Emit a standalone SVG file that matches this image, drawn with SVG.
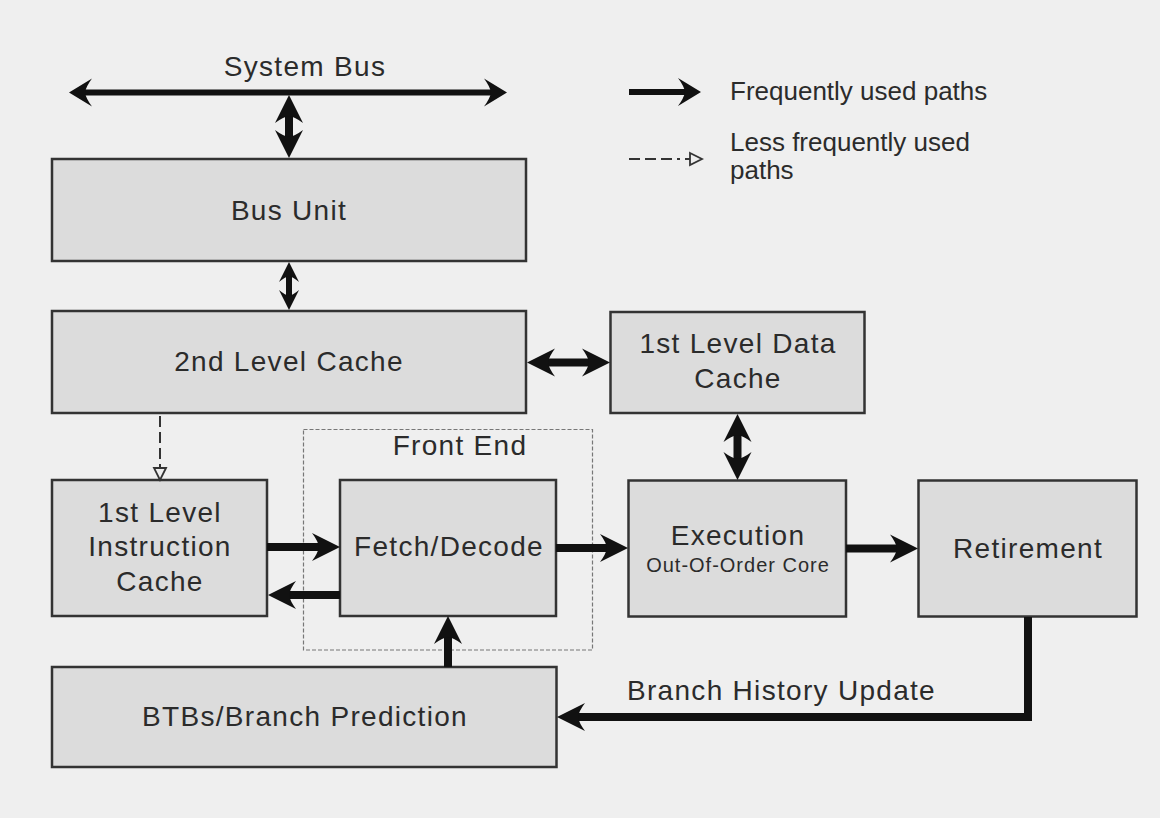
<svg xmlns="http://www.w3.org/2000/svg" width="1160" height="818" viewBox="0 0 1160 818">
  <style>
    .box { fill: #dcdcdc; stroke: #333333; stroke-width: 2.5; }
    .t { font-family: "Liberation Sans", Arial, Helvetica, sans-serif; font-size: 28px; letter-spacing: 1.3px; fill: #2b2b2b; text-anchor: middle; }
    .small { font-size: 20px; letter-spacing: 1px; }
    .leg { font-family: "Liberation Sans", Arial, Helvetica, sans-serif; font-size: 26px; fill: #2b2b2b; }
    .thick { stroke: #111111; stroke-width: 8; fill: none; }
    .mid { stroke: #111111; stroke-width: 6; fill: none; }
    .dash { stroke: #333333; stroke-width: 2; fill: none; stroke-dasharray: 11 5; }
    .fe { fill: none; stroke: #777777; stroke-width: 1.2; stroke-dasharray: 4 2; }
  </style>
  <defs>
    <marker id="ah" viewBox="-10 -16 32 32" markerWidth="32" markerHeight="32" refX="0" refY="0" markerUnits="userSpaceOnUse" orient="auto-start-reverse">
      <path d="M20,0 L-8,-14 Q-2,-6 -1,0 Q-2,6 -8,14 Z" fill="#111111"/>
    </marker>
    <marker id="ahb" viewBox="-10 -16 30 32" markerWidth="30" markerHeight="32" refX="0" refY="0" markerUnits="userSpaceOnUse" orient="auto-start-reverse">
      <path d="M16,0 L-7,-14 Q-1,-6 0,0 Q-1,6 -7,14 Z" fill="#111111"/>
    </marker>
    <marker id="ahs" viewBox="-8 -12 24 24" markerWidth="24" markerHeight="24" refX="0" refY="0" markerUnits="userSpaceOnUse" orient="auto-start-reverse">
      <path d="M14,0 L-6,-10 Q-1,-4 0,0 Q-1,4 -6,10 Z" fill="#111111"/>
    </marker>
    <marker id="open" viewBox="-2 -8 16 16" markerWidth="16" markerHeight="16" refX="0" refY="0" markerUnits="userSpaceOnUse" orient="auto">
      <path d="M0,-6 L12,0 L0,6 Z" fill="#eeeeee" stroke="#333333" stroke-width="1.8"/>
    </marker>
  </defs>

  <rect x="0" y="0" width="1160" height="818" fill="#efefef"/>

  <!-- Front End dashed region -->
  <g id="front-end">
    <rect class="fe" x="303.5" y="429.5" width="289" height="220.5"/>
    <text class="t" x="460" y="455">Front End</text>
  </g>

  <g id="bus-unit">
    <rect class="box" x="52" y="159" width="474" height="102"/>
    <text class="t" x="289" y="220">Bus Unit</text>
  </g>

  <g id="l2-cache">
    <rect class="box" x="52" y="311" width="474" height="102"/>
    <text class="t" x="289" y="371">2nd Level Cache</text>
  </g>

  <g id="l1-data-cache">
    <rect class="box" x="610.5" y="312" width="254" height="101"/>
    <text class="t" x="738" y="353">1st Level Data</text>
    <text class="t" x="738" y="388">Cache</text>
  </g>

  <g id="l1-instr-cache">
    <rect class="box" x="52" y="480" width="215" height="136"/>
    <text class="t" x="160" y="522">1st Level</text>
    <text class="t" x="160" y="556">Instruction</text>
    <text class="t" x="160" y="591">Cache</text>
  </g>

  <g id="fetch-decode">
    <rect class="box" x="340" y="480" width="216" height="136"/>
    <text class="t" x="449" y="556">Fetch/Decode</text>
  </g>

  <g id="execution">
    <rect class="box" x="628.5" y="480.5" width="217.5" height="136"/>
    <text class="t" x="738" y="545">Execution</text>
    <text class="t small" x="738" y="572">Out-Of-Order Core</text>
  </g>

  <g id="retirement">
    <rect class="box" x="918.5" y="480.5" width="218" height="136"/>
    <text class="t" x="1028" y="558">Retirement</text>
  </g>

  <g id="btb">
    <rect class="box" x="52" y="667" width="504.5" height="100"/>
    <text class="t" x="305" y="726">BTBs/Branch Prediction</text>
  </g>

  <g id="system-bus">
    <text class="t" x="305" y="76">System Bus</text>
  </g>

  <g id="connectors">
    <line class="mid" x1="85" y1="92.5" x2="491" y2="92.5" marker-start="url(#ahb)" marker-end="url(#ahb)"/>
    <line class="thick" x1="289" y1="115" x2="289" y2="138" marker-start="url(#ah)" marker-end="url(#ah)"/>
    <line class="mid" x1="289" y1="276" x2="289" y2="296" marker-start="url(#ahs)" marker-end="url(#ahs)"/>
    <line class="thick" x1="547" y1="362.5" x2="590" y2="362.5" marker-start="url(#ah)" marker-end="url(#ah)"/>
    <line class="thick" x1="737.5" y1="434" x2="737.5" y2="460" marker-start="url(#ah)" marker-end="url(#ah)"/>
    <line class="dash" x1="160" y1="416" x2="160" y2="468" marker-end="url(#open)"/>
    <line class="thick" x1="267" y1="547" x2="320" y2="547" marker-end="url(#ah)"/>
    <line class="thick" x1="340" y1="595" x2="288" y2="595" marker-end="url(#ah)"/>
    <line class="thick" x1="556" y1="548" x2="608" y2="548" marker-end="url(#ah)"/>
    <line class="thick" x1="846" y1="548.5" x2="898" y2="548.5" marker-end="url(#ah)"/>
    <line class="thick" x1="448" y1="667" x2="448" y2="636" marker-end="url(#ah)"/>
    <path class="thick" d="M1028,617 V717 H577" stroke-linejoin="miter" marker-end="url(#ah)"/>
    <text class="t" x="627" y="700" style="text-anchor:start">Branch History Update</text>
  </g>

  <g id="legend">
    <line class="mid" x1="629" y1="92" x2="685" y2="92" marker-end="url(#ahb)"/>
    <text class="leg" x="730" y="100">Frequently used paths</text>
    <line class="dash" x1="629" y1="159" x2="690" y2="159" style="stroke-dasharray: 11 5 11 5 11 5 3 5" marker-end="url(#open)"/>
    <text class="leg" x="730" y="151">Less frequently used</text>
    <text class="leg" x="730" y="179">paths</text>
  </g>
</svg>
